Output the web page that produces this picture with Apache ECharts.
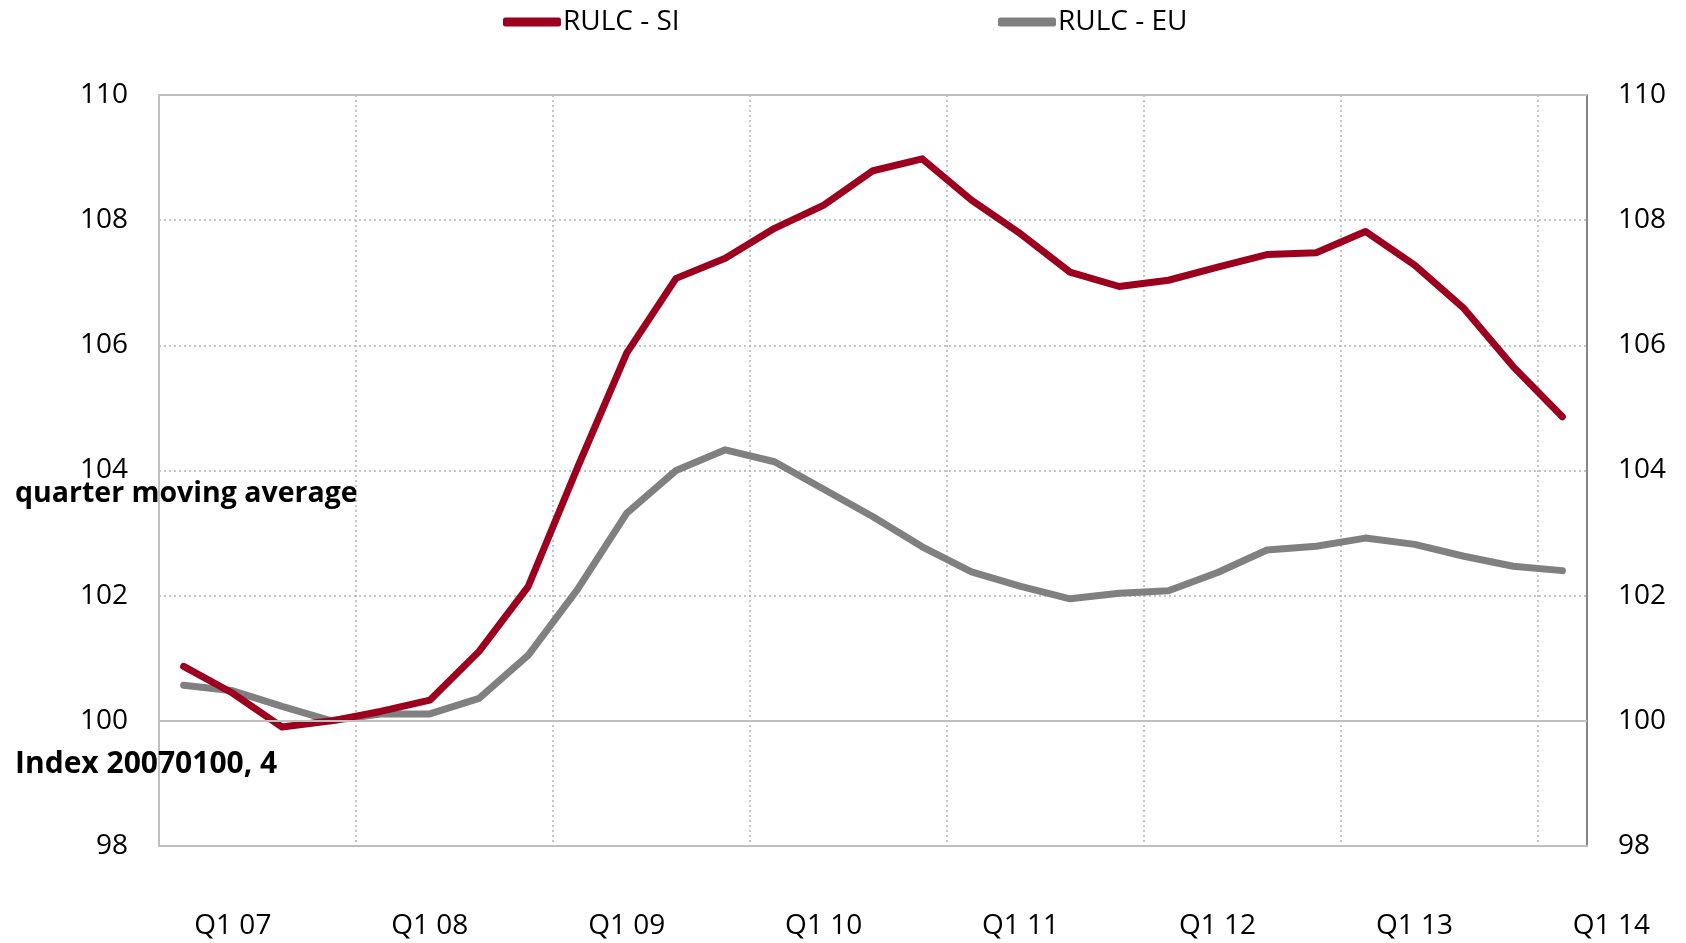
<!DOCTYPE html>
<html><head><meta charset="utf-8">
<script src="https://cdn.jsdelivr.net/npm/echarts@6/dist/echarts.min.js"></script>
<style>html,body{margin:0;padding:0;background:#fff}#c{width:1686px;height:943px}</style>
</head><body><div id="c"></div>
<script>
const categories = ['Q4 06','Q1 07','Q2 07','Q3 07','Q4 07','Q1 08','Q2 08','Q3 08','Q4 08','Q1 09','Q2 09','Q3 09','Q4 09','Q1 10','Q2 10','Q3 10','Q4 10','Q1 11','Q2 11','Q3 11','Q4 11','Q1 12','Q2 12','Q3 12','Q4 12','Q1 13','Q2 13','Q3 13','Q4 13'];
const tickLabels = ['Q4 06','Q1 07','Q2 07','Q3 07','Q4 07','Q1 08','Q2 08','Q3 08','Q4 08','Q1 09','Q2 09','Q3 09','Q4 09','Q1 10','Q2 10','Q3 10','Q4 10','Q1 11','Q2 11','Q3 11','Q4 11','Q1 12','Q2 12','Q3 12','Q4 12','Q1 13','Q2 13','Q3 13','Q4 13','Q1 14'];
const rulcSI = [100.87,100.44,99.90,100.0,100.15,100.33,101.11,102.15,104.05,105.88,107.07,107.39,107.87,108.24,108.79,108.98,108.32,107.78,107.17,106.94,107.04,107.25,107.45,107.48,107.82,107.28,106.59,105.66,104.86];
const rulcEU = [100.57,100.48,100.23,100.0,100.11,100.11,100.36,101.05,102.10,103.32,104.00,104.33,104.14,103.70,103.26,102.78,102.38,102.15,101.95,102.04,102.08,102.37,102.73,102.79,102.92,102.82,102.63,102.47,102.40];
const seriesNames = ['RULC - SI','RULC - EU'];
const sideNotes = ['quarter moving average','Index 20070100, 4'];

const FONT = 'Open Sans';
const chart = echarts.init(document.getElementById('c'));
const legendCommon = {
  top: 3, icon: 'roundRect', itemWidth: 58, itemHeight: 9,
  textStyle: {fontFamily: FONT, fontSize: 28, color: '#000', padding: [0,0,0,-3]},
  selectedMode: false
};
chart.setOption({
  animation: false,
  backgroundColor: '#fff',
  legend: [
    Object.assign({left: 498, data: [seriesNames[0]]}, legendCommon),
    Object.assign({left: 993, data: [seriesNames[1]]}, legendCommon)
  ],
  grid: [
    {left: 159, right: 99, top: 95, bottom: 97},
    {left: 159, right: 50, top: 95, bottom: 97}
  ],
  xAxis: [
    {type: 'category', gridIndex: 0, data: categories, boundaryGap: true,
     axisLine: {show: true, lineStyle: {color: '#bfbfbf', width: 2}},
     axisTick: {show: false}, axisLabel: {show: false},
     splitLine: {show: true, interval: (i) => i % 4 === 0 && i > 0, lineStyle: {color: '#b3b3b3', type: [2,3], width: 1.5}}},
    {type: 'category', gridIndex: 1, data: tickLabels, boundaryGap: true,
     axisLine: {show: false}, axisTick: {show: false}, splitLine: {show: false},
     axisLabel: {interval: (i) => i % 4 === 1, margin: 66, fontFamily: FONT, fontSize: 28, color: '#000'}}
  ],
  yAxis: [
    {type: 'value', gridIndex: 0, min: 98, max: 110, interval: 2, position: 'left',
     axisLine: {show: true, lineStyle: {color: '#bfbfbf', width: 2}}, axisTick: {show: false},
     axisLabel: {margin: 31, fontFamily: FONT, fontSize: 28, color: '#000'},
     splitLine: {show: true, lineStyle: {color: '#b3b3b3', type: [2,3], width: 1.5}}},
    {type: 'value', gridIndex: 0, min: 98, max: 110, interval: 2, position: 'right',
     axisLine: {show: true, lineStyle: {color: '#868686', width: 2}}, axisTick: {show: false},
     axisLabel: {margin: 31, fontFamily: FONT, fontSize: 28, color: '#000'},
     splitLine: {show: false}},
    {type: 'value', gridIndex: 1, min: 98, max: 110, show: false}
  ],
  series: [
    {name: seriesNames[1], type: 'line', xAxisIndex: 0, yAxisIndex: 0, data: rulcEU,
     showSymbol: false, symbol: 'none', color: '#808080',
     lineStyle: {width: 7, color: '#808080', cap: 'round', join: 'round'},
     markLine: {silent: true, symbol: 'none', label: {show: false},
       lineStyle: {color: '#bfbfbf', type: 'solid', width: 2},
       data: [{yAxis: 100}, {yAxis: 110}]}, z: 3},
    {name: seriesNames[0], type: 'line', xAxisIndex: 0, yAxisIndex: 0, data: rulcSI,
     showSymbol: false, symbol: 'none', color: '#9c001e',
     lineStyle: {width: 7, color: '#9c001e', cap: 'round', join: 'round'}, z: 4}
  ],
  graphic: [
    {type: 'text', left: 15, top: 479, z: 100,
     style: {text: sideNotes[0], font: 'bold 28.5px "Open Sans"', fill: '#000'}},
    {type: 'text', left: 15, top: 749, z: 100,
     style: {text: sideNotes[1], font: 'bold 30px "Open Sans"', fill: '#000'}}
  ]
});
</script></body></html>
